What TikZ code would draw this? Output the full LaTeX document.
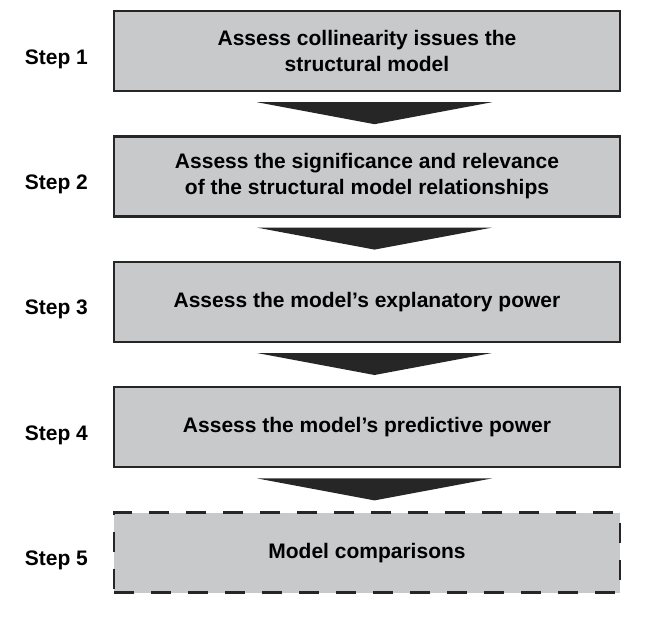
\documentclass[tikz,border=0pt]{standalone}
\usepackage{fontspec}
\setmainfont{Liberation Sans}
\usetikzlibrary{positioning,calc}
\definecolor{boxgray}{RGB}{200,201,203}
\definecolor{boxline}{RGB}{38,38,38}
\tikzset{
  stagebox/.style={rectangle,draw=boxline,fill=boxgray,line width=2.4pt,
    minimum width=505.5pt,minimum height=80pt,align=center,
    font=\fontsize{21}{26}\selectfont\bfseries,inner sep=4pt},
  optbox/.style={stagebox,dash pattern=on 20pt off 17pt},
  steplabel/.style={font=\fontsize{21}{24}\selectfont\bfseries,inner sep=0pt},
  chevron/.style={fill=boxline},
}

\begin{document}
\begin{tikzpicture}[x=1pt,y=1pt,node distance=43pt]
  \useasboundingbox (0,0) rectangle (658,-642);
  \node[stagebox] (coll) at (367,-51) {Assess collinearity issues the\\structural model};
  \node[stagebox, below=of coll] (sig)  {Assess the significance and relevance\\of the structural model relationships};
  \node[stagebox, below=of sig]  (expl) {Assess the model’s explanatory power};
  \node[stagebox, below=of expl] (pred) {Assess the model’s predictive power};
  \node[optbox,   below=of pred] (comp) {Model comparisons};
  % step labels
  \node[steplabel, left=25pt of coll, yshift=-8pt] (s1) {Step 1};
  \node[steplabel, left=25pt of sig,  yshift=-8pt] (s2) {Step 2};
  \node[steplabel, left=25pt of expl, yshift=-8pt] (s3) {Step 3};
  \node[steplabel, left=25pt of pred, yshift=-8pt] (s4) {Step 4};
  \node[steplabel, left=25pt of comp, yshift=-8pt] (s5) {Step 5};
  % arrows between the steps
  \foreach \a/\b in {coll/sig,sig/expl,expl/pred,pred/comp}
    \fill[chevron] ($(\a.south)+(-110,-10)$) -- ++(235,0) -- ($(\b.north)+(7.5,11)$) -- cycle;
\end{tikzpicture}
\end{document}
